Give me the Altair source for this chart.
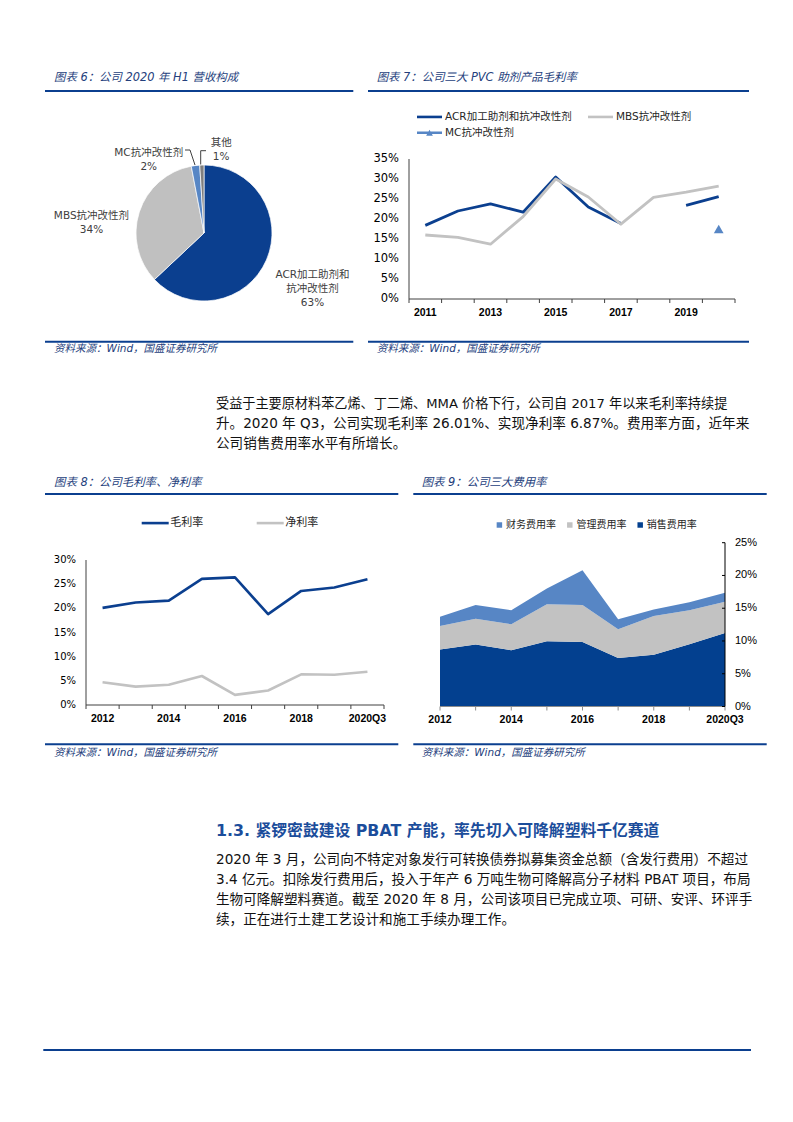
import altair as alt
import pandas as pd

# ---------------- values ----------------
# 图表6 公司2020年H1营收构成
pie_cats = ["ACR加工助剂和抗冲改性剂", "MBS抗冲改性剂", "MC抗冲改性剂", "其他"]
pie_text = ["ACR加工助剂和\n抗冲改性剂\n63%", "MBS抗冲改性剂\n34%", "MC抗冲改性剂\n2%", "其他\n1%"]
pie_vals = [63, 34, 2, 1]

# 图表7 公司三大PVC助剂产品毛利率 (%)
years7 = [2011, 2012, 2013, 2014, 2015, 2016, 2017, 2018, 2019, 2020]
acr7 = [18.4, 22.0, 23.8, 21.7, 30.5, 23.0, 18.9, None, 23.4, 25.6]
mbs7 = [16.0, 15.4, 13.7, 20.6, 30.0, 25.5, 18.7, 25.4, 26.7, 28.2]
mc7 = [None, None, None, None, None, None, None, None, None, 17.5]
yticks7 = [0, 5, 10, 15, 20, 25, 30, 35]
xlabels7 = [2011, 2013, 2015, 2017, 2019]

# 图表8 公司毛利率、净利率 (%)
cats8 = ["2012", "2013", "2014", "2015", "2016", "2017", "2018", "2019", "2020Q3"]
gross8 = [20.1, 21.2, 21.6, 26.1, 26.4, 18.8, 23.6, 24.3, 26.01]
net8 = [4.7, 3.8, 4.2, 6.0, 2.1, 3.0, 6.35, 6.27, 6.87]
yticks8 = [0, 5, 10, 15, 20, 25, 30]

# 图表9 公司三大费用率 (%)
cats9 = ["2012", "2013", "2014", "2015", "2016", "2017", "2018", "2019", "2020Q3"]
fin9 = [1.4, 2.1, 2.15, 2.4, 5.3, 1.5, 1.0, 1.2, 1.35]
admin9 = [3.6, 3.95, 3.95, 5.65, 5.65, 4.4, 5.9, 5.2, 4.8]
sales9 = [8.7, 9.45, 8.6, 9.95, 9.85, 7.4, 7.9, 9.5, 11.2]
yticks9 = [0, 5, 10, 15, 20, 25]

S_ACR, S_MBS, S_MC = "ACR加工助剂和抗冲改性剂", "MBS抗冲改性剂", "MC抗冲改性剂"
S_G, S_N = "毛利率", "净利率"
S_F, S_A, S_S = "财务费用率", "管理费用率", "销售费用率"

# ---------------- styles ----------------
SANS = "DejaVu Sans, Noto Sans CJK SC"
ARIAL = "Liberation Sans"
BLUE = "#0b3f8f"
NAVY = "#24407c"
GREY = "#c2c2c2"
LBLUE = "#5786c5"
AX = "#404040"

one = pd.DataFrame({"k": [0]})


def text(s, x, y, size, color="#111111", weight="normal", style="normal", align="left", font=SANS):
    return alt.Chart(one).mark_text(
        fontSize=size, color=color, fontWeight=weight, fontStyle=style,
        align=align, baseline="middle", font=font
    ).encode(x=alt.value(x), y=alt.value(y), text=alt.value(s))


def rule(x1, y1, x2, y2, width=2, color=BLUE):
    return alt.Chart(one).mark_rule(color=color, strokeWidth=width).encode(
        x=alt.value(x1), x2=alt.value(x2), y=alt.value(y1), y2=alt.value(y2))


def rows_of(name, xs, vals):
    rows, seg = [], 0
    for x, v in zip(xs, vals):
        if v is None:
            seg += 1
            continue
        rows.append({"x": x, "v": v, "s": name, "seg": f"{name}-{seg}"})
    return pd.DataFrame(rows)


def pct_labels(vals):
    return pd.DataFrame({"v": vals, "lbl": [f"{v}%" for v in vals]})


# ---------------- 图表6 pie ----------------
CX, CY = 196, 225
dfp = pd.DataFrame({"cat": pie_cats, "val": pie_vals, "ord": list(range(len(pie_cats))), "lbl": pie_text})
tscale = alt.Scale(domain=[0, 100])
arc = alt.Chart(dfp).mark_arc(radius=68, stroke="white", strokeWidth=0.7).encode(
    theta=alt.Theta("val:Q", stack=True, scale=tscale),
    color=alt.Color("cat:N", scale=alt.Scale(domain=pie_cats, range=[BLUE, "#c0c0c0", LBLUE, "#7f7f7f"]), legend=None),
    order=alt.Order("ord:Q"),
    x=alt.value(CX), y=alt.value(CY),
)
pie_base = alt.Chart(dfp).transform_window(
    cum="sum(val)", sort=[alt.SortField("ord")]
).transform_calculate(mid="datum.cum - datum.val / 2")
label_place = [(0, 116, 2, -4), (1, 112, -6, 18), (2, 90, -44, 9), (3, 90, 20, 0)]
pie_labels = []
for idx, r, dx, dy in label_place:
    pie_labels.append(
        pie_base.transform_filter(f"datum.ord == {idx}").mark_text(
            radius=r, dx=dx, dy=dy, lineBreak="\n", lineHeight=14, fontSize=10.5,
            font=SANS, color="#404040", align="center", baseline="middle"
        ).encode(
            theta=alt.Theta("mid:Q", stack=False, scale=tscale),
            text="lbl:N", x=alt.value(CX), y=alt.value(CY),
        )
    )
leaders = [
    rule(177, 142, 182, 142, 1, "#404040"), rule(182, 142, 187, 157, 1, "#404040"),
    rule(198, 142.7, 192.7, 142.7, 1, "#404040"), rule(192.7, 142.7, 192.7, 156.5, 1, "#404040"),
]
pie = alt.layer(arc, *pie_labels)

# ---------------- 图表7 lines ----------------
sx7 = alt.Scale(domain=[years7[0] - 0.5, years7[-1] + 0.5], range=[401, 727], nice=False, zero=False)
sy7 = alt.Scale(domain=[0, 35], range=[291, 151], nice=False, zero=False)
col7 = alt.Scale(domain=[S_ACR, S_MBS], range=[BLUE, GREY])
leg7 = alt.Legend(title=None, orient="none", legendX=407.5, legendY=94.7, direction="horizontal",
                  symbolType="stroke", symbolSize=625, symbolStrokeWidth=2.6, labelFont=SANS,
                  labelFontSize=10.5, labelColor="#262626", labelOffset=1.5, columnPadding=10,
                  padding=0, labelLimit=400)
MC_PATH = "M-1,-0.1L1,-0.1L1,0.1L-1,0.1Z M-0.27,0.24L0,-0.24L0.27,0.24Z"
leg7b = alt.Legend(title=None, orient="none", legendX=409, legendY=112.2, symbolType=MC_PATH,
                   symbolSize=625, symbolStrokeWidth=0, labelFont=SANS, labelFontSize=10.5,
                   labelColor="#262626", labelOffset=3, padding=0, labelLimit=400)

X7 = alt.X("x:Q", scale=sx7, axis=None)
Y7 = alt.Y("v:Q", scale=sy7, axis=None)
acr_line = alt.Chart(rows_of(S_ACR, years7, acr7)).mark_line(strokeWidth=2.8, strokeJoin="round").encode(
    x=X7, y=Y7, color=alt.Color("s:N", scale=col7, legend=leg7), detail="seg:N")
mbs_line = alt.Chart(rows_of(S_MBS, years7, mbs7)).mark_line(strokeWidth=2.8, strokeJoin="round").encode(
    x=X7, y=Y7, color=alt.Color("s:N", scale=col7, legend=leg7), detail="seg:N")
mc_pt = alt.Chart(rows_of(S_MC, years7, mc7)).mark_point(shape="triangle-up", filled=True, size=95, opacity=1).encode(
    x=X7, y=Y7, fill=alt.Fill("s:N", scale=alt.Scale(domain=[S_MC], range=[LBLUE]), legend=leg7b))

bounds7 = [y - 0.5 for y in years7] + [years7[-1] + 0.5]
ax7 = pd.DataFrame({"a": [bounds7[0]], "b": [bounds7[-1]], "c": [0], "d": [35]})
xaxis7 = alt.Chart(ax7).mark_rule(color=AX, strokeWidth=1).encode(
    x=alt.X("a:Q", scale=sx7, axis=None), x2="b:Q", y=alt.Y("c:Q", scale=sy7, axis=None))
yaxis7 = alt.Chart(ax7).mark_rule(color=AX, strokeWidth=1).encode(
    x=alt.X("a:Q", scale=sx7, axis=None), y=alt.Y("c:Q", scale=sy7, axis=None), y2="d:Q")
xt7 = alt.Chart(pd.DataFrame({"x": bounds7, "c": 0})).mark_rule(color=AX, strokeWidth=1, y2Offset=4).encode(
    x=X7, y=alt.Y("c:Q", scale=sy7, axis=None), y2="c:Q")
ylab7 = alt.Chart(pct_labels(yticks7)).mark_text(align="right", baseline="middle", fontSize=11.5, font=SANS, color="#000").encode(
    x=alt.value(391), y=Y7, text="lbl:N")
xlab7 = alt.Chart(pd.DataFrame({"x": xlabels7, "lbl": [str(y) for y in xlabels7]})).mark_text(
    align="center", baseline="middle", fontSize=10.5, font=ARIAL, fontWeight="bold", color="#000").encode(
    x=X7, y=alt.value(305.3), text="lbl:N")
c7 = alt.layer(xaxis7, yaxis7, xt7, ylab7, xlab7, acr_line, mbs_line, mc_pt)

# ---------------- 图表8 lines ----------------
sx8 = alt.Scale(domain=[-0.5, len(cats8) - 0.5], range=[78, 376], nice=False, zero=False)
sy8 = alt.Scale(domain=[0, 30], range=[697, 552], nice=False, zero=False)
col8 = alt.Scale(domain=[S_G, S_N], range=[BLUE, GREY])
leg8 = alt.Legend(title=None, orient="none", legendX=132.2, legendY=499.7, direction="horizontal",
                  symbolType="stroke", symbolSize=729, symbolStrokeWidth=2.6, labelFont=SANS,
                  labelFontSize=11, labelColor="#262626", labelOffset=0, columnPadding=48,
                  padding=0)
X8 = alt.X("x:Q", scale=sx8, axis=None)
Y8 = alt.Y("v:Q", scale=sy8, axis=None)
idx8 = list(range(len(cats8)))
g_line = alt.Chart(rows_of(S_G, idx8, gross8)).mark_line(strokeWidth=2.6, strokeJoin="round").encode(
    x=X8, y=Y8, color=alt.Color("s:N", scale=col8, legend=leg8))
n_line = alt.Chart(rows_of(S_N, idx8, net8)).mark_line(strokeWidth=2.6, strokeJoin="round").encode(
    x=X8, y=Y8, color=alt.Color("s:N", scale=col8, legend=leg8))
bounds8 = [i - 0.5 for i in idx8] + [idx8[-1] + 0.5]
ax8 = pd.DataFrame({"a": [bounds8[0]], "b": [bounds8[-1]], "c": [0], "d": [30]})
xaxis8 = alt.Chart(ax8).mark_rule(color=AX, strokeWidth=1).encode(
    x=alt.X("a:Q", scale=sx8, axis=None), x2="b:Q", y=alt.Y("c:Q", scale=sy8, axis=None))
yaxis8 = alt.Chart(ax8).mark_rule(color=AX, strokeWidth=1).encode(
    x=alt.X("a:Q", scale=sx8, axis=None), y=alt.Y("c:Q", scale=sy8, axis=None), y2="d:Q")
xt8 = alt.Chart(pd.DataFrame({"x": bounds8, "c": 0})).mark_rule(color=AX, strokeWidth=1, y2Offset=4).encode(
    x=X8, y=alt.Y("c:Q", scale=sy8, axis=None), y2="c:Q")
ylab8 = alt.Chart(pct_labels(yticks8)).mark_text(align="right", baseline="middle", fontSize=10, font=SANS, color="#000").encode(
    x=alt.value(68), y=Y8, text="lbl:N")
xlab8 = alt.Chart(pd.DataFrame({"x": idx8, "lbl": cats8})).transform_filter("datum.x % 2 == 0").mark_text(
    align="center", baseline="middle", fontSize=10.5, font=ARIAL, fontWeight="bold", color="#000").encode(
    x=X8, y=alt.value(711.3), text="lbl:N")
c8 = alt.layer(xaxis8, yaxis8, xt8, ylab8, xlab8, g_line, n_line)

# ---------------- 图表9 stacked area ----------------
idx9 = list(range(len(cats9)))
sx9 = alt.Scale(domain=[0, idx9[-1]], range=[432, 717], nice=False, zero=False)
sy9 = alt.Scale(domain=[0, 25], range=[698.5, 534.7], nice=False, zero=False)
col9 = alt.Scale(domain=[S_F, S_A, S_S], range=[LBLUE, GREY, "#03408f"])
leg9 = alt.Legend(title=None, orient="none", legendX=486.4, legendY=512, direction="horizontal",
                  symbolType="square", symbolSize=30, symbolStrokeWidth=0, labelFont=SANS,
                  labelFontSize=10, labelColor="#262626", labelOffset=1.6, columnPadding=8.4,
                  padding=0)
X9 = alt.X("x:Q", scale=sx9, axis=None)
Y9 = alt.Y("v:Q", scale=sy9, axis=None)
frames = []
for ordv, (name, vals) in enumerate([(S_S, sales9), (S_A, admin9), (S_F, fin9)]):
    d = rows_of(name, idx9, vals)
    d["ord"] = ordv
    frames.append(d)
df9 = pd.concat(frames, ignore_index=True)
area9 = alt.Chart(df9).mark_area(opacity=1).encode(
    x=X9, y=alt.Y("v:Q", scale=sy9, axis=None, stack="zero"),
    color=alt.Color("s:N", scale=col9, legend=leg9), order=alt.Order("ord:Q"))
ax9 = pd.DataFrame({"a": [0], "b": [idx9[-1]], "c": [0], "d": [25]})
xaxis9 = alt.Chart(ax9).mark_rule(color="#8c8c8c", strokeWidth=1).encode(
    x=alt.X("a:Q", scale=sx9, axis=None), x2="b:Q", y=alt.Y("c:Q", scale=sy9, axis=None))
yaxis9 = alt.Chart(ax9).mark_rule(color="#000", strokeWidth=1).encode(
    x=alt.X("b:Q", scale=sx9, axis=None), y=alt.Y("c:Q", scale=sy9, axis=None), y2="d:Q")
xt9 = alt.Chart(pd.DataFrame({"x": idx9, "c": 0})).mark_rule(color="#8c8c8c", strokeWidth=1, y2Offset=4).encode(
    x=X9, y=alt.Y("c:Q", scale=sy9, axis=None), y2="c:Q")
yt9 = alt.Chart(pd.DataFrame({"x": idx9[-1], "v": yticks9})).mark_rule(color="#000", strokeWidth=1, x2Offset=-3).encode(
    x=X9, x2="x:Q", y=Y9)
ylab9 = alt.Chart(pct_labels(yticks9)).mark_text(align="left", baseline="middle", fontSize=11, font=ARIAL, color="#000").encode(
    x=alt.value(727), y=Y9, text="lbl:N")
xlab9 = alt.Chart(pd.DataFrame({"x": idx9, "lbl": cats9})).transform_filter("datum.x % 2 == 0").mark_text(
    align="center", baseline="middle", fontSize=10.5, font=ARIAL, fontWeight="bold", color="#000").encode(
    x=X9, y=alt.value(712), text="lbl:N")
c9 = alt.layer(area9, xaxis9, yaxis9, xt9, yt9, ylab9, xlab9)

# ---------------- page decoration ----------------
SRC = "资料来源：Wind，国盛证券研究所"
deco = [
    text("图表 6：公司 2020 年 H1 营收构成", 46, 70.3, 11.4, NAVY, style="italic"),
    text("图表 7：公司三大 PVC 助剂产品毛利率", 368.7, 70.3, 11.4, NAVY, style="italic"),
    text("图表 8：公司毛利率、净利率", 46, 474.7, 11.4, NAVY, style="italic"),
    text("图表 9：公司三大费用率", 413.7, 474.7, 11.4, NAVY, style="italic"),
    text(SRC, 46, 340.5, 10.5, NAVY, style="italic"),
    text(SRC, 368.7, 340.5, 10.5, NAVY, style="italic"),
    text(SRC, 46, 745, 10.5, NAVY, style="italic"),
    text(SRC, 413.7, 745, 10.5, NAVY, style="italic"),
    rule(37, 83, 345.3, 83), rule(360, 83, 741, 83),
    rule(37, 333.7, 345.3, 333.7), rule(360, 333.7, 741, 333.7),
    rule(37, 486, 390.3, 486), rule(405.3, 486, 758.7, 486),
    rule(37, 736.3, 390.3, 736.3), rule(405.3, 736.3, 758.7, 736.3),
    rule(35.3, 1042, 743, 1042),
    text("受益于主要原材料苯乙烯、丁二烯、MMA 价格下行，公司自 2017 年以来毛利率持续提", 208, 396, 13.15),
    text("升。2020 年 Q3，公司实现毛利率 26.01%、实现净利率 6.87%。费用率方面，近年来", 208, 416, 13.6),
    text("公司销售费用率水平有所增长。", 208, 436, 13.6),
    text("1.3.  紧锣密鼓建设 PBAT 产能，率先切入可降解塑料千亿赛道", 208, 823, 15.8, "#1b4d9b", weight="bold"),
    text("2020 年 3 月，公司向不特定对象发行可转换债券拟募集资金总额（含发行费用）不超过", 208, 852, 13.6),
    text("3.4 亿元。扣除发行费用后，投入于年产 6 万吨生物可降解高分子材料 PBAT 项目，布局", 208, 872, 13.6),
    text("生物可降解塑料赛道。截至 2020 年 8 月，公司该项目已完成立项、可研、安评、环评手", 208, 892, 13.6),
    text("续，正在进行土建工艺设计和施工手续办理工作。", 208, 912, 13.6),
] + leaders

chart = alt.layer(pie, c7, c8, c9, *deco).resolve_scale(
    x="independent", y="independent", color="independent", fill="independent", theta="independent"
).properties(
    width=777, height=1106, autosize=alt.AutoSizeParams(type="none"), padding=0, background="white"
).configure_view(strokeWidth=0)

chart.save("out.html", embed_options={"renderer": "svg", "actions": False})
